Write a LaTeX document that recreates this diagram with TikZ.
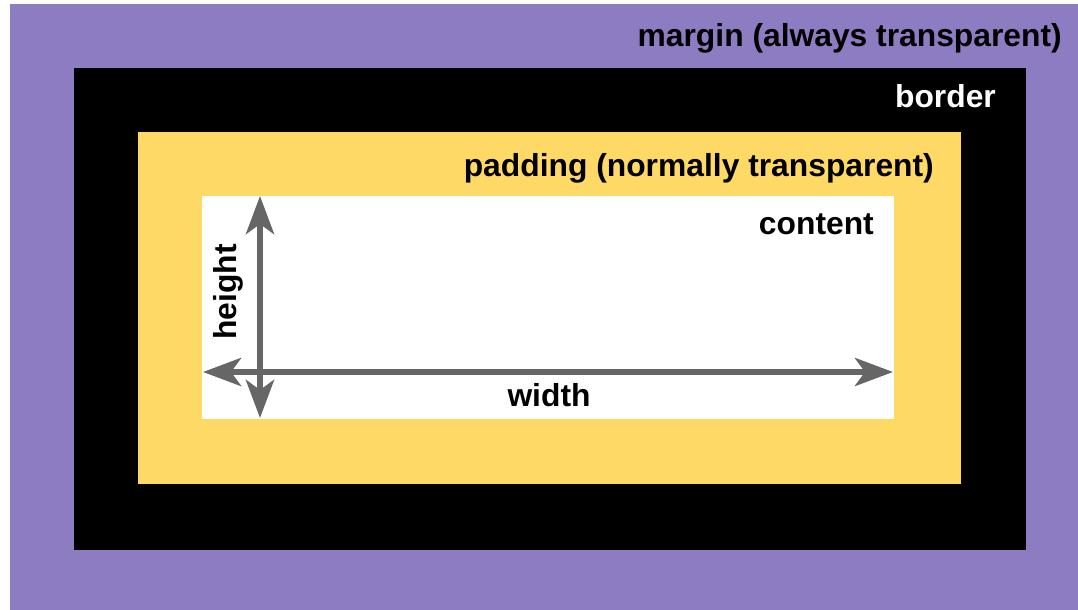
\documentclass[tikz,border=0pt]{standalone}
\usepackage{fontspec}
\setmainfont{Liberation Sans}
\usetikzlibrary{arrows.meta}
\definecolor{marginc}{HTML}{8E7CC3}
\definecolor{paddingc}{HTML}{FFD966}
\definecolor{arrowc}{HTML}{666666}
\tikzset{
  lbl/.style={inner sep=0pt, font=\bfseries\fontsize{31.8bp}{38bp}\selectfont},
  dim/.style={draw=arrowc, line width=6bp,
    arrows={Stealth[length=38bp,width=28bp,inset=10bp]-Stealth[length=38bp,width=28bp,inset=10bp]}},
}
\begin{document}
\begin{tikzpicture}[x=1bp,y=-1bp]
\useasboundingbox[fill=white] (0,0) rectangle (1078,610);
\fill[marginc] (10,4) rectangle (1078,610);
\fill[black] (74,68) rectangle (1026,550);
\fill[paddingc] (138,132) rectangle (961,484);
\fill[white] (202,196) rectangle (894,419);
\node[lbl, anchor=base east, text=black] (margin) at (1062,47) {margin (always transparent)};
\node[lbl, anchor=base east, text=white] (border) at (996,108) {border};
\node[lbl, anchor=base east, text=black] (padding) at (934,177) {padding (normally transparent)};
\node[lbl, anchor=base east, text=black] (content) at (874,235) {content};
\coordinate (htop) at (260,196);
\coordinate (hbot) at (260,418);
\coordinate (wl) at (203,372);
\coordinate (wr) at (893,372);
\draw[dim] (wl) -- (wr);
\draw[dim] (hbot) -- (htop);
\node[lbl, anchor=base, text=black] (width) at (549,406) {width};
\node[lbl, anchor=base west, rotate=90, text=black] (height) at (236,340) {height};
\end{tikzpicture}
\end{document}
